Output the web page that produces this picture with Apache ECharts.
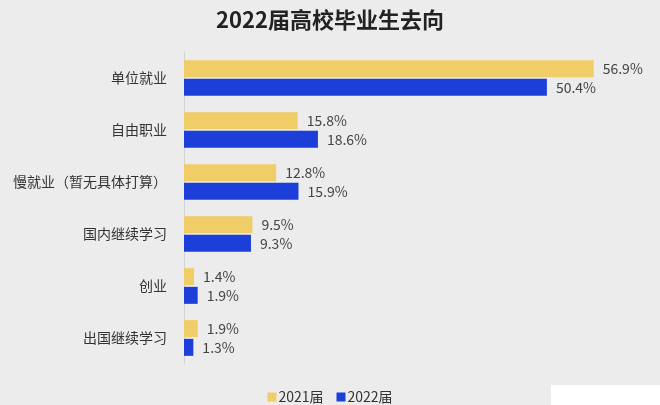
<!DOCTYPE html>
<html><head><meta charset="utf-8">
<script src="https://cdn.jsdelivr.net/npm/echarts@6/dist/echarts.min.js"></script>
<style>html,body{margin:0;padding:0;background:#ececec;}#c{width:660px;height:405px;}</style>
</head><body><div id="c"></div>
<script>
var categories = ['单位就业', '自由职业', '慢就业（暂无具体打算）', '国内继续学习', '创业', '出国继续学习'];
var values2021 = [56.9, 15.8, 12.8, 9.5, 1.4, 1.9];
var values2022 = [50.4, 18.6, 15.9, 9.3, 1.9, 1.3];
var seriesNames = ['2021届', '2022届'];

var chart = echarts.init(document.getElementById('c'));
var font = '"Noto Sans CJK SC", "Noto Sans", sans-serif';
var lbl = {show: true, position: 'right', distance: 9, formatter: function(p){return p.value.toFixed(1) + '%';}, color: '#444', fontSize: 14, fontFamily: font};
chart.setOption({
  backgroundColor: '#ececec',
  animation: false,
  title: {text: '2022届高校毕业生去向', left: 'center', top: 4, textStyle: {fontSize: 22, fontWeight: 'bold', color: '#222', fontFamily: font}},
  legend: {data: seriesNames, top: 390, left: 'center', padding: 0, itemWidth: 9, itemHeight: 9, itemGap: 13, icon: 'rect',
    textStyle: {fontSize: 14, lineHeight: 12, color: '#333', fontFamily: font, padding: [0,0,0,-3]}},
  grid: {left: 184, top: 52, width: 432, height: 312, containLabel: false},
  xAxis: {type: 'value', min: 0, max: 60, show: false},
  yAxis: {type: 'category', data: categories, inverse: true,
    axisLine: {show: true, lineStyle: {color: '#d4d4d4', width: 1}}, axisTick: {show: false},
    axisLabel: {fontSize: 14, color: '#333', margin: 17, fontFamily: font}},
  graphic: [{type: 'rect', shape: {x: 551, y: 385, width: 109, height: 20}, style: {fill: '#ffffff'}}],
  series: [
    {name: seriesNames[0], type: 'bar', data: values2021, barWidth: 17, barGap: '10%', itemStyle: {color: '#f0cd66'}, label: lbl},
    {name: seriesNames[1], type: 'bar', data: values2022, barWidth: 17, barGap: '10%', itemStyle: {color: '#1b3fd8'}, label: lbl}
  ]
});
</script></body></html>
